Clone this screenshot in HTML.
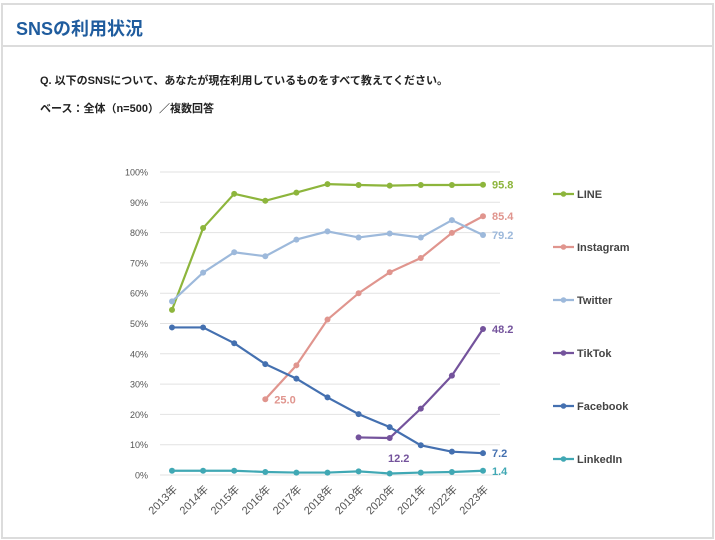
<!DOCTYPE html>
<html><head><meta charset="utf-8"><style>
body{margin:0;background:#fff;}
#wrap{position:relative;width:715px;height:540px;overflow:hidden;font-family:"Liberation Sans","Noto Sans CJK JP",sans-serif;}
.frame{position:absolute;left:1px;top:3px;width:709px;height:532px;border:2px solid #dcdcdc;}
.hline{position:absolute;left:3px;top:45px;width:709px;height:2px;background:#dcdcdc;}
.title{position:absolute;left:16px;top:15px;font-size:18px;color:#1f5c9e;font-weight:bold;}
.q{position:absolute;left:40px;top:72px;font-size:11px;font-weight:bold;color:#222;}
.base{position:absolute;left:40px;top:100px;font-size:11px;font-weight:bold;color:#222;}
svg{position:absolute;left:0;top:0;}
</style></head><body>
<div id="wrap">
<div class="frame"></div>
<div class="hline"></div>
<div class="title">SNSの利用状況</div>
<div class="q">Q. 以下のSNSについて、あなたが現在利用しているものをすべて教えてください。</div>
<div class="base">ベース：全体（n=500）／複数回答</div>
<svg id="chart" width="715" height="540"></svg>
</div>
<script>
const categories=["2013年","2014年","2015年","2016年","2017年","2018年","2019年","2020年","2021年","2022年","2023年"];
const yTicks=[0,10,20,30,40,50,60,70,80,90,100];
const seriesNames=["LINE","Instagram","Twitter","TikTok","Facebook","LinkedIn"];
const lineVals=[54.5,81.5,92.8,90.5,93.2,96.0,95.7,95.5,95.7,95.7,95.8];
const instagramVals=[null,null,null,25.0,36.2,51.3,60.0,66.9,71.6,79.9,85.4];
const twitterVals=[57.3,66.8,73.5,72.2,77.7,80.4,78.4,79.7,78.4,84.1,79.2];
const tiktokVals=[null,null,null,null,null,null,12.4,12.2,21.9,32.8,48.2];
const facebookVals=[48.7,48.7,43.5,36.6,31.8,25.6,20.1,15.8,9.8,7.7,7.2];
const linkedinVals=[1.4,1.4,1.4,1.0,0.8,0.8,1.2,0.5,0.8,1.0,1.4];
const colors=["#8db53c","#e0958e","#9db9db","#74539c","#4470b0","#40a8b4"];
const allVals=[lineVals,instagramVals,twitterVals,tiktokVals,facebookVals,linkedinVals];
const svg=document.getElementById('chart');
const NS="http://www.w3.org/2000/svg";
const X0=172,X1=483,Y0=475,Y1=172;
const xs=i=>X0+(X1-X0)*i/(categories.length-1);
const ys=v=>Y0-(Y0-Y1)*v/100;
function mk(t,a,p){const e=document.createElementNS(NS,t);for(const k in a)e.setAttribute(k,a[k]);(p||svg).appendChild(e);return e;}
yTicks.forEach(t=>{
 const g=mk('line',{x1:160,x2:500,y1:ys(t),y2:ys(t),stroke:'#e2e2e2','stroke-width':1});
 
 
 const l=mk('text',{x:148,y:ys(t)+3.5,'text-anchor':'end','font-size':9,fill:'#555'});
 l.textContent=t+'%';
 
 
});
categories.forEach((c,i)=>{
 const l=mk('text',{x:xs(i)+6,y:490,'text-anchor':'end','font-size':11,fill:'#555',transform:`rotate(-45 ${xs(i)+6} 490)`});
 l.textContent=c;
 
 
});
allVals.forEach((vals,s)=>{
 const pts=[];vals.forEach((v,i)=>{if(v!==null)pts.push([xs(i),ys(v),i,v]);});
 const pl=mk('polyline',{points:pts.map(p=>p[0]+','+p[1]).join(' '),fill:'none',stroke:colors[s],'stroke-width':2.2});
 
 
 pts.forEach(p=>{
  const c=mk('circle',{cx:p[0],cy:p[1],r:3,fill:colors[s]});
  
  
 });
 const last=pts[pts.length-1];
 const t=mk('text',{x:last[0]+9,y:last[1]+4,'font-size':11,'font-weight':'bold',fill:colors[s]});
 t.textContent=last[3].toFixed(1);
 
 
 const first=pts[0];
 if(s===1){const f=mk('text',{x:first[0]+9,y:first[1]+4,'font-size':11,'font-weight':'bold',fill:colors[s]});f.textContent=first[3].toFixed(1);
  
  }
 if(s===3){const p=pts[1];const f=mk('text',{x:p[0]+9,y:p[1]+24,'font-size':11,'font-weight':'bold',fill:colors[s],'text-anchor':'middle'});f.textContent=p[3].toFixed(1);
  
  }
 const ly=194+53*s;
 const g=mk('g',{});
 
 
 mk('line',{x1:553,x2:574,y1:ly,y2:ly,stroke:colors[s],'stroke-width':2.2},g);
 mk('circle',{cx:563.5,cy:ly,r:2.8,fill:colors[s]},g);
 const lt=mk('text',{x:577,y:ly+4,'font-size':11,'font-weight':'bold',fill:'#444'},g);
 lt.textContent=seriesNames[s];
});
</script>
</body></html>
